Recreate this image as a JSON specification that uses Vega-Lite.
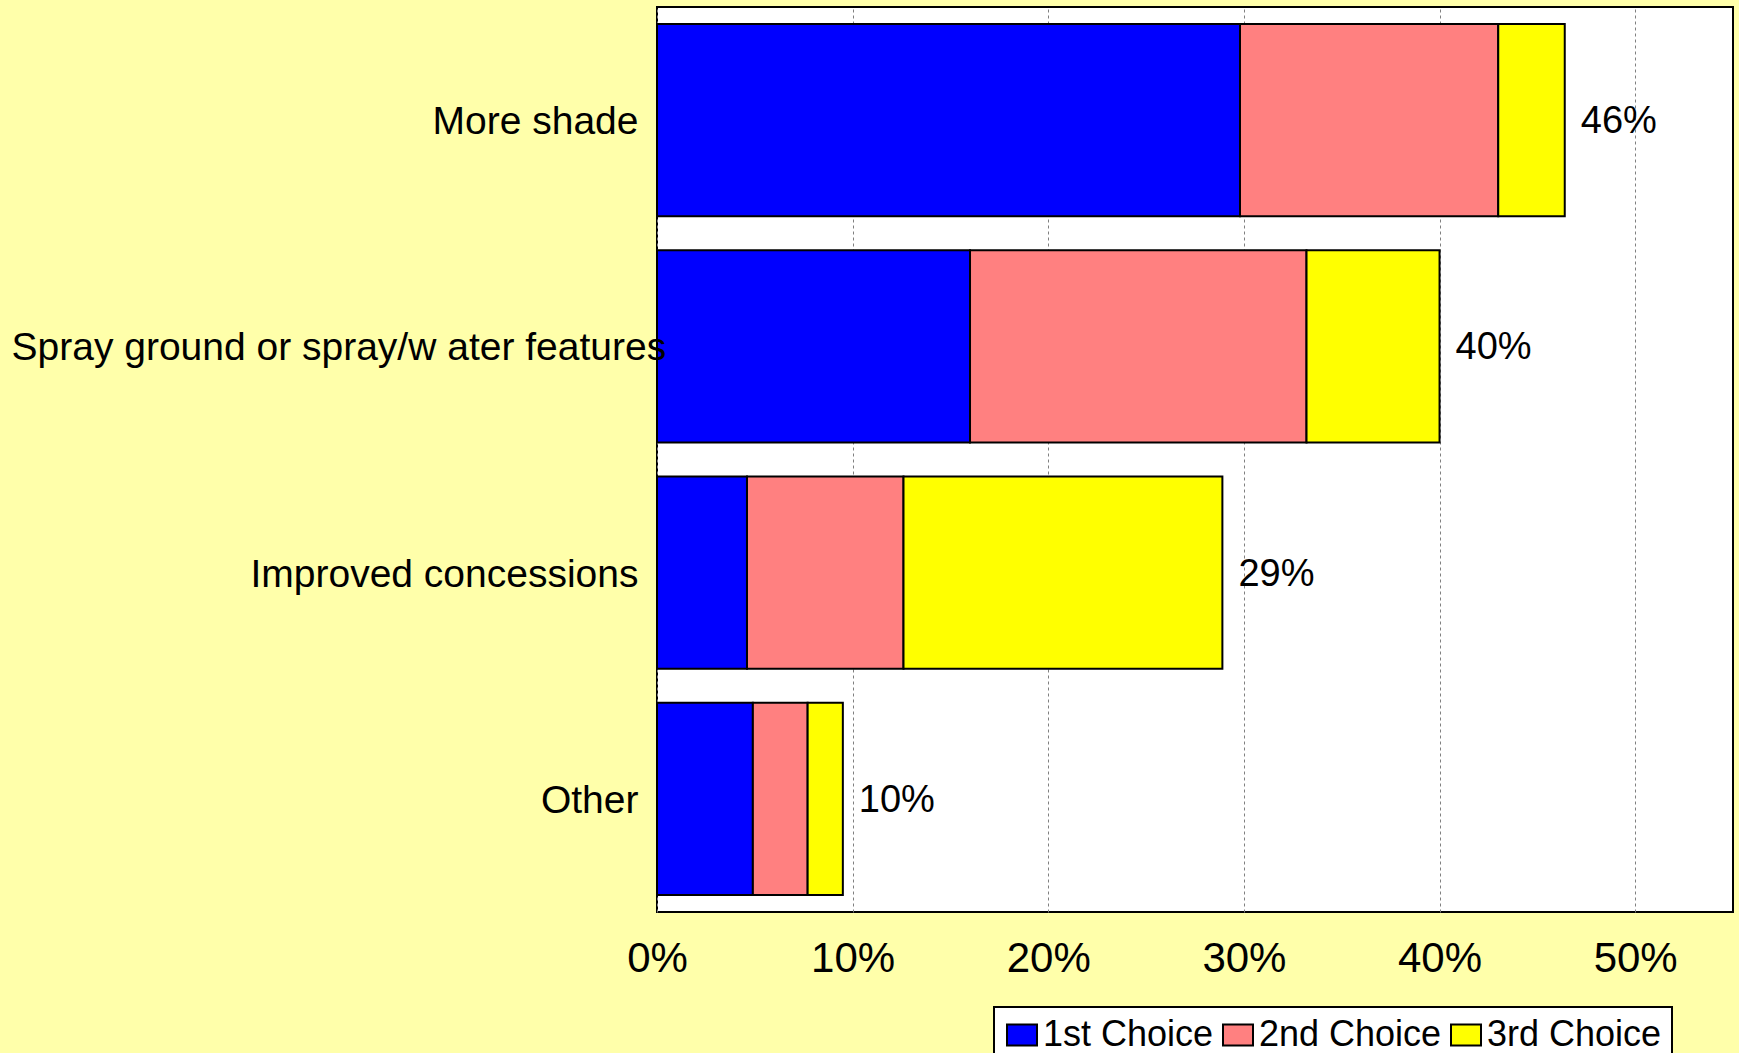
{
  "$schema": "https://vega.github.io/schema/vega-lite/v6.json",
  "autosize": "none",
  "width": 1076,
  "height": 905,
  "padding": {"left": 657, "top": 7, "right": 6, "bottom": 141},
  "background": "#FFFFAA",
  "config": {
    "view": {"fill": "white", "stroke": "black", "strokeWidth": 2},
    "font": "Liberation Sans",
    "axis": {"labelColor": "black", "labelFont": "Liberation Sans"},
    "legend": {"labelFont": "Liberation Sans", "strokeWidth": 2}
  },
  "data": {
    "values": [
      {"item": "More shade", "choice": "1st Choice", "rank": 1, "value": 0.298},
      {"item": "More shade", "choice": "2nd Choice", "rank": 2, "value": 0.132},
      {"item": "More shade", "choice": "3rd Choice", "rank": 3, "value": 0.034},
      {"item": "Spray ground or spray/w ater features", "choice": "1st Choice", "rank": 1, "value": 0.160},
      {"item": "Spray ground or spray/w ater features", "choice": "2nd Choice", "rank": 2, "value": 0.172},
      {"item": "Spray ground or spray/w ater features", "choice": "3rd Choice", "rank": 3, "value": 0.068},
      {"item": "Improved concessions", "choice": "1st Choice", "rank": 1, "value": 0.046},
      {"item": "Improved concessions", "choice": "2nd Choice", "rank": 2, "value": 0.080},
      {"item": "Improved concessions", "choice": "3rd Choice", "rank": 3, "value": 0.163},
      {"item": "Other", "choice": "1st Choice", "rank": 1, "value": 0.049},
      {"item": "Other", "choice": "2nd Choice", "rank": 2, "value": 0.028},
      {"item": "Other", "choice": "3rd Choice", "rank": 3, "value": 0.018}
    ]
  },
  "encoding": {
    "y": {
      "field": "item",
      "type": "nominal",
      "sort": null,
      "scale": {"paddingInner": 0.15, "paddingOuter": 0.075},
      "axis": {
        "title": null,
        "domain": false,
        "ticks": false,
        "zindex": 1,
        "labelFontSize": 39,
        "labelLimit": 0,
        "labelOffset": 2,
        "labelAlign": {"condition": {"test": "indexof(datum.value, 'Spray') === 0", "value": "left"}, "value": "right"},
        "labelPadding": {"condition": {"test": "indexof(datum.value, 'Spray') === 0", "value": 646}, "value": 19}
      }
    }
  },
  "layer": [
    {
      "mark": {"type": "bar", "stroke": "black", "strokeWidth": 2},
      "encoding": {
        "x": {
          "field": "value",
          "type": "quantitative",
          "stack": "zero",
          "scale": {"domain": [0, 0.55], "nice": false},
          "axis": {
            "title": null,
            "format": ".0%",
            "values": [0, 0.1, 0.2, 0.3, 0.4, 0.5],
            "domain": false,
            "ticks": false,
            "labelFontSize": 42,
            "labelPadding": 26,
            "labelFlush": false,
            "labelOverlap": false,
            "grid": true,
            "gridColor": "#808080",
            "gridDash": [3, 3],
            "gridWidth": 1
          }
        },
        "color": {
          "field": "choice",
          "type": "nominal",
          "scale": {"domain": ["1st Choice", "2nd Choice", "3rd Choice"], "range": ["#0000FF", "#FF8080", "#FFFF00"]},
          "legend": {
            "title": null,
            "orient": "none",
            "legendX": 337,
            "legendY": 1000,
            "direction": "horizontal",
            "fillColor": "white",
            "strokeColor": "black",
            "padding": 10,
            "symbolType": "M-1,-0.7H1V0.7H-1Z",
            "symbolSize": 900,
            "symbolStrokeColor": "black",
            "symbolStrokeWidth": 2,
            "symbolOpacity": 1,
            "labelFontSize": 36,
            "labelColor": "black",
            "labelOffset": 3,
            "columnPadding": 5,
            "labelLimit": 0
          }
        },
        "order": {"field": "rank", "type": "quantitative"}
      }
    },
    {
      "transform": [{"aggregate": [{"op": "sum", "field": "value", "as": "total"}], "groupby": ["item"]}],
      "mark": {"type": "text", "align": "left", "baseline": "middle", "dx": 16, "dy": 2, "fontSize": 38, "color": "black"},
      "encoding": {
        "x": {"field": "total", "type": "quantitative"},
        "text": {"field": "total", "type": "quantitative", "format": ".0%"}
      }
    }
  ]
}
